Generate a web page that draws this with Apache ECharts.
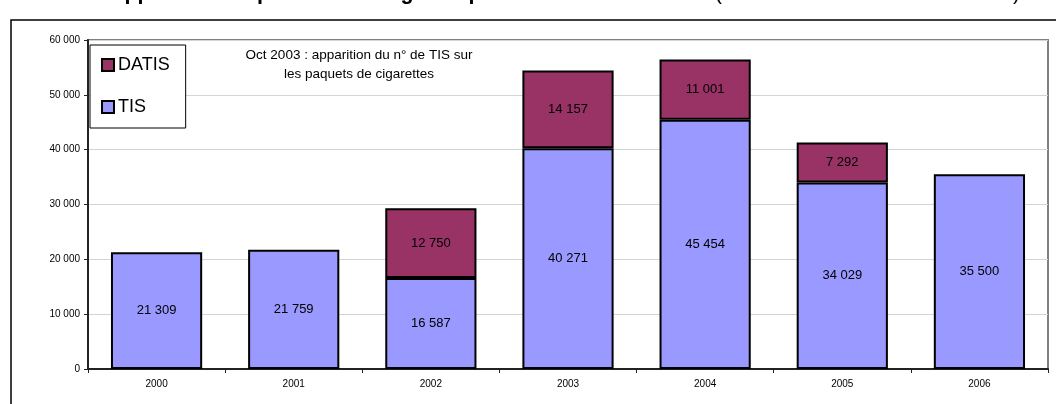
<!DOCTYPE html>
<html><head><meta charset="utf-8">
<script src="https://cdn.jsdelivr.net/npm/echarts@6/dist/echarts.min.js"></script>
<style>html,body{margin:0;padding:0;background:#fff}#c{width:1056px;height:404px}</style>
</head><body><div id="c"></div>
<script>
const categories = ['2000','2001','2002','2003','2004','2005','2006'];
const tisValues = [21309, 21759, 16587, 40271, 45454, 34029, 35500];
const datisValues = [null, null, 12750, 14157, 11001, 7292, null];
const yTicks = [0, 10000, 20000, 30000, 40000, 50000, 60000];
const titleBold = "Nombre d'appels traités par les deux lignes spécialisées sur le tabac";
const titleRest = " (sources : INPES – et DATIS – )";
const noteText = "Oct 2003 : apparition du n° de TIS sur\nles paquets de cigarettes";

const fmt = v => String(Math.round(v)).replace(/\B(?=(\d{3})+(?!\d))/g, ' ');
const FONT = 'Arial, "Liberation Sans", sans-serif';

const chart = echarts.init(document.getElementById('c'), null, {renderer: 'canvas'});
chart.setOption({
  animation: false,
  textStyle: {fontFamily: FONT},
  grid: {left: 88, right: 8, top: 40, bottom: 35, show: true, borderColor: '#808080', borderWidth: 2, backgroundColor: 'transparent'},
  legend: {
    orient: 'vertical', left: 90, top: 45,
    data: ['DATIS', 'TIS'],
    icon: 'rect', itemWidth: 12, itemHeight: 12, itemGap: 24,
    padding: [11, 16, 12, 11],
    borderColor: '#000', borderWidth: 1, backgroundColor: '#fff',
    textStyle: {fontSize: 18, color: '#000', fontFamily: FONT, padding: [0, 0, 0, -1]},
    itemStyle: {borderColor: '#000', borderWidth: 2}
  },
  xAxis: {
    type: 'category', data: categories,
    axisLine: {lineStyle: {color: '#222', width: 2}},
    axisTick: {show: true, length: 4, lineStyle: {color: '#222', width: 1}},
    axisLabel: {fontSize: 10, color: '#000', margin: 10}
  },
  yAxis: {
    type: 'value', min: yTicks[0], max: yTicks[yTicks.length - 1], interval: yTicks[1] - yTicks[0],
    axisLine: {show: true, lineStyle: {color: '#222', width: 2}},
    axisTick: {show: true, length: 4, lineStyle: {color: '#222', width: 1}},
    axisLabel: {fontSize: 10, color: '#000', margin: 8, formatter: v => fmt(v)},
    splitLine: {lineStyle: {color: '#d4d4d4', width: 1}}
  },
  series: [
    {
      name: 'TIS', type: 'bar', stack: 'a', data: tisValues, barCategoryGap: '33.5%',
      itemStyle: {color: '#9999FF', borderColor: '#000', borderWidth: 2},
      label: {show: true, position: 'inside', fontSize: 13, color: '#000', formatter: p => fmt(p.value)},
      z: 3
    },
    {
      name: 'DATIS', type: 'bar', stack: 'a', data: datisValues,
      itemStyle: {color: '#993366', borderColor: '#000', borderWidth: 2},
      label: {show: true, position: 'inside', fontSize: 13, color: '#000', formatter: p => p.value == null ? '' : fmt(p.value)},
      z: 3
    }
  ],
  graphic: [
    {type: 'rect', shape: {x: 11, y: 20, width: 1100, height: 500}, style: {fill: 'none', stroke: '#000', lineWidth: 1.5}, z: 0, silent: true},
    {type: 'text', x: 359, y: 46, z: 10, style: {
      text: noteText, align: 'center', verticalAlign: 'top', fontSize: 13.5, lineHeight: 19, fill: '#000', fontFamily: FONT
    }},
    {type: 'text', x: 7, y: -18, z: 10, style: {
      text: '{b|' + titleBold + '}{n|' + titleRest + '}',
      rich: {
        b: {fontSize: 21.5, fontWeight: 'bold', fill: '#000', fontFamily: FONT},
        n: {fontSize: 21.5, fill: '#000', fontFamily: FONT}
      }
    }}
  ]
});
</script></body></html>
